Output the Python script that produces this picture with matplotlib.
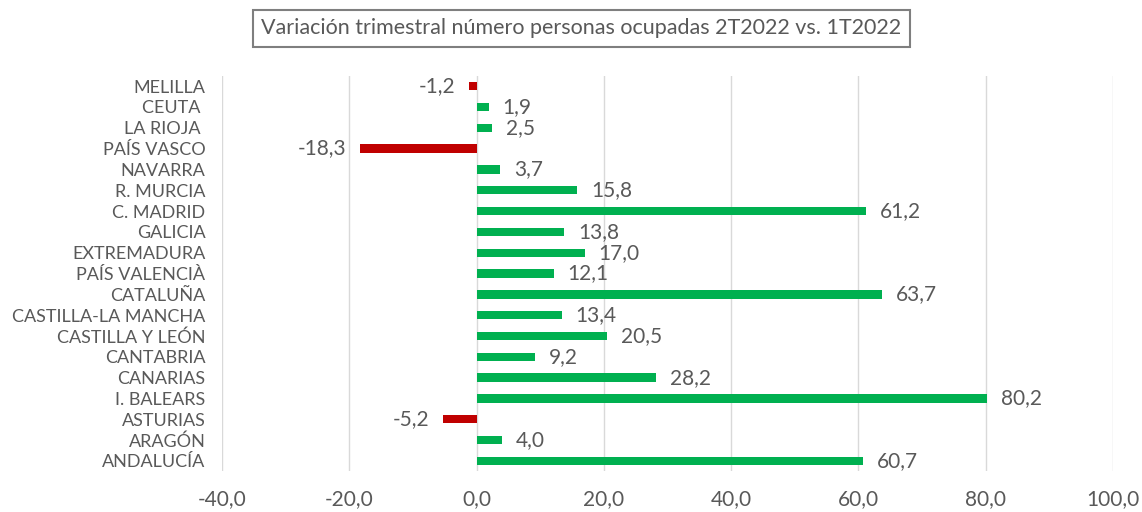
import matplotlib.pyplot as plt
import numpy as np

plt.rcParams['font.family'] = ['Lato', 'DejaVu Sans']

# data, bottom to top as drawn
regiones = ['ANDALUCÍA', 'ARAGÓN', 'ASTURIAS', 'I. BALEARS', 'CANARIAS', 'CANTABRIA',
            'CASTILLA Y LEÓN', 'CASTILLA-LA MANCHA', 'CATALUÑA', 'PAÍS VALENCIÀ',
            'EXTREMADURA', 'GALICIA', 'C. MADRID', 'R. MURCIA', 'NAVARRA',
            'PAÍS VASCO', 'LA RIOJA ', 'CEUTA ', 'MELILLA']
variacion = [60.7, 4.0, -5.2, 80.2, 28.2, 9.2, 20.5, 13.4, 63.7, 12.1,
             17.0, 13.8, 61.2, 15.8, 3.7, -18.3, 2.5, 1.9, -1.2]
xticks = [-40, -20, 0, 20, 40, 60, 80, 100]
titulo = 'Variación trimestral número personas ocupadas 2T2022 vs. 1T2022'

verde = '#00B050'
rojo = '#C00000'
gris = '#595959'

fig = plt.figure(figsize=(11.42, 5.12), dpi=100)
ax = fig.add_axes([0.1944, 0.0793, 0.7802, 0.773])

pos = np.arange(len(regiones))
colores = [verde if v >= 0 else rojo for v in variacion]
ax.barh(pos, variacion, height=0.4, color=colores, zorder=3)

for p, v in zip(pos, variacion):
    txt = f'{v:.1f}'.replace('.', ',')
    if v >= 0:
        ax.annotate(txt, (v, p), xytext=(10, 0), textcoords='offset points',
                    ha='left', va='center', fontsize=15, color=gris)
    else:
        ax.annotate(txt, (v, p), xytext=(-10, 0), textcoords='offset points',
                    ha='right', va='center', fontsize=15, color=gris)

ax.set_xlim(-40, 100)
ax.set_ylim(-0.5, len(regiones) - 0.5)
ax.set_xticks(xticks)
ax.set_xticklabels([f'{t:.1f}'.replace('.', ',') for t in xticks], fontsize=15, color=gris)
ax.set_yticks(pos)
ax.set_yticklabels(regiones, fontsize=13, color=gris)
ax.tick_params(axis='both', length=0)
ax.tick_params(axis='x', pad=13)
ax.tick_params(axis='y', pad=12)
ax.grid(axis='x', color='#d9d9d9', linewidth=1, zorder=0)
for s in ax.spines.values():
    s.set_visible(False)

fig.text(0.509, 0.945, titulo, ha='center', va='center', fontsize=15.5, color=gris,
         bbox=dict(boxstyle='square,pad=0.4', facecolor='white', edgecolor='#7f7f7f', linewidth=1.5))

plt.savefig('out.png')
